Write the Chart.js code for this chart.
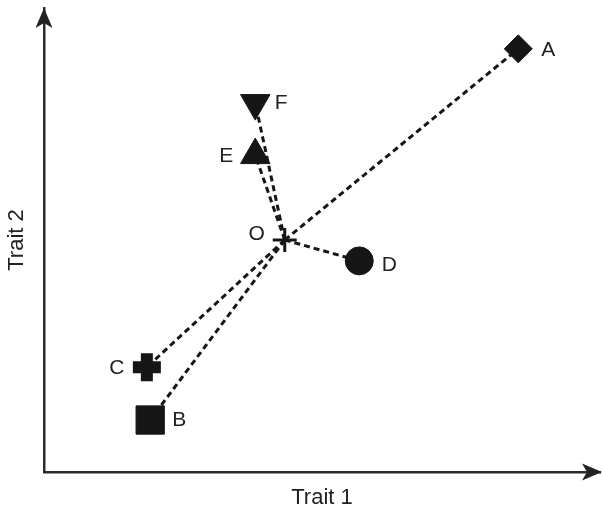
<!DOCTYPE html>
<html>
<head>
<meta charset="utf-8">
<script src="https://cdn.jsdelivr.net/npm/chart.js@4"></script>
<style>
  html, body { margin: 0; padding: 0; background: #fff; }
  canvas { display: block; }
</style>
</head>
<body>
<canvas id="chart" width="603" height="511"></canvas>
<script>
// point names and positions on the two trait axes (0-100 scale, no ticks shown)
const pointNames = ['O', 'A', 'B', 'C', 'D', 'E', 'F'];
const trait1 = [43.3, 85.3, 19.1, 18.5, 56.7, 38.0, 38.0];
const trait2 = [50.0, 91.2, 11.2, 22.6, 45.5, 68.3, 79.5];

const FONT = 'Liberation Sans, Arial, Helvetica, sans-serif';
const INK = '#161616';

// marker look per point
const markerStyle = ['cross', 'rectRot', 'rect', 'cross', 'circle', 'triangle', 'triangle'];
const markerRadius = [12, 14, 20, 14, 14, 17, 17];
const markerRotation = [0, 0, 0, 0, 0, 0, 180];
const markerBorder = [3, 1, 1, 12, 1, 1, 1];
// where each letter sits relative to its marker (pixels)
const labelOffset = [[-28, -6], [30, 1], [29, 0], [-30, 1], [30, 4], [-29, 1], [26, 0]];

const points = pointNames.map((n, i) => ({ x: trait1[i], y: trait2[i] }));

// dashed lines from O to every other point
const lineSets = [];
for (let i = 1; i < points.length; i++) {
    lineSets.push({
        data: [points[0], points[i]],
        showLine: true,
        borderColor: INK,
        borderWidth: 3,
        borderDash: [6, 4],
        pointRadius: 0,
        order: 2
    });
}

const markerSet = {
    data: points,
    showLine: false,
    pointStyle: markerStyle,
    pointRadius: markerRadius,
    pointRotation: markerRotation,
    pointBorderWidth: markerBorder,
    pointBackgroundColor: INK,
    pointBorderColor: INK,
    order: 1
};

const arrowPlugin = {
    id: 'arrows',
    afterDraw(chart) {
        const { ctx, chartArea } = chart;
        const l = chartArea.left, b = chartArea.bottom;
        ctx.save();
        ctx.fillStyle = '#222';
        // up arrow
        let tx = l, ty = chartArea.top;
        ctx.beginPath();
        ctx.moveTo(tx, ty);
        ctx.lineTo(tx + 8.5, ty + 20);
        ctx.lineTo(tx, ty + 15);
        ctx.lineTo(tx - 8.5, ty + 20);
        ctx.closePath();
        ctx.fill();
        // right arrow
        tx = chartArea.right + 2; ty = b;
        ctx.beginPath();
        ctx.moveTo(tx, ty);
        ctx.lineTo(tx - 20, ty - 8.5);
        ctx.lineTo(tx - 15, ty);
        ctx.lineTo(tx - 20, ty + 8.5);
        ctx.closePath();
        ctx.fill();
        ctx.restore();
    }
};

const labelPlugin = {
    id: 'pointLabels',
    afterDatasetsDraw(chart) {
        const ctx = chart.ctx;
        const meta = chart.getDatasetMeta(chart.data.datasets.length - 1);
        ctx.save();
        ctx.font = '21px ' + FONT;
        ctx.fillStyle = '#222';
        ctx.textAlign = 'center';
        ctx.textBaseline = 'middle';
        meta.data.forEach((el, i) => {
            ctx.fillText(pointNames[i], el.x + labelOffset[i][0], el.y + labelOffset[i][1]);
        });
        ctx.restore();
    }
};

const config = {
    type: 'scatter',
    data: { datasets: lineSets.concat([markerSet]) },
    options: {
        responsive: false,
        animation: false,
        events: [],
        layout: { autoPadding: false, padding: { left: 0, right: 3, top: 8, bottom: 0 } },
        plugins: { legend: { display: false }, tooltip: { enabled: false } },
        scales: {
            x: {
                type: 'linear', min: 0, max: 100,
                grid: { display: false, drawTicks: false, tickLength: 0 },
                ticks: { display: false },
                border: { display: true, color: '#2b2b2b', width: 2.5 },
                title: {
                    display: true, text: 'Trait 1', color: '#222',
                    font: { size: 22, family: FONT },
                    padding: { top: 12.6, bottom: 0 }
                }
            },
            y: {
                type: 'linear', min: 0, max: 100,
                grid: { display: false, drawTicks: false, tickLength: 0 },
                ticks: { display: false },
                border: { display: true, color: '#2b2b2b', width: 2.5 },
                title: {
                    display: true, text: 'Trait 2', color: '#222',
                    font: { size: 22, family: FONT },
                    padding: { top: 3.8, bottom: 13.8 }
                }
            }
        }
    },
    plugins: [arrowPlugin, labelPlugin]
};

const myChart = new Chart(document.getElementById('chart'), config);
</script>
</body>
</html>
